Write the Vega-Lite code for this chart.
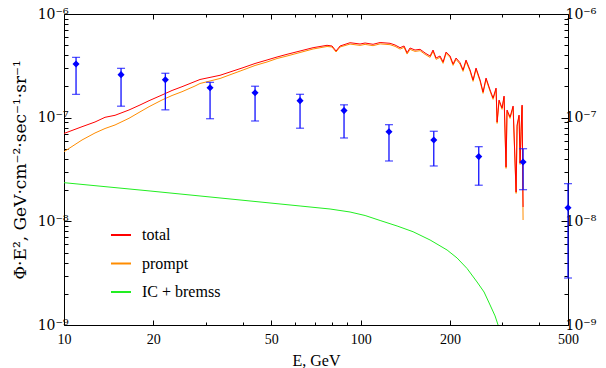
{
  "$schema": "https://vega.github.io/schema/vega-lite/v6.json",
  "width": 504,
  "height": 311,
  "autosize": {"type": "none"},
  "padding": {"left": 64, "top": 14, "right": 38, "bottom": 43},
  "background": "white",
  "config": {
    "view": {"stroke": "black", "strokeWidth": 1},
    "font": "Liberation Serif, Times New Roman, serif",
    "axis": {
      "domain": false,
      "grid": false,
      "tickColor": "black",
      "labelColor": "black",
      "titleColor": "black",
      "labelFont": "Liberation Serif, Times New Roman, serif",
      "titleFont": "Liberation Serif, Times New Roman, serif",
      "labelFontSize": 14,
      "titleFontSize": 16,
      "titleFontWeight": "normal",
      "labelOverlap": false,
      "labelFlush": false,
      "labelBound": false
    },
    "legend": {
      "orient": "none",
      "legendX": 46,
      "legendY": 210,
      "symbolType": "stroke",
      "symbolSize": 400,
      "symbolStrokeWidth": 2,
      "labelFont": "Liberation Serif, Times New Roman, serif",
      "labelFontSize": 16,
      "labelColor": "black",
      "rowPadding": 9.5,
      "labelOffset": 10,
      "padding": 0
    }
  },
  "datasets": {
    "ic": [
      {"E": 10, "F": 2.36e-8}, {"E": 19.5, "F": 1.962e-8}, {"E": 36.28, "F": 1.643e-8},
      {"E": 62.48, "F": 1.406e-8}, {"E": 78.86, "F": 1.315e-8}, {"E": 92.1, "F": 1.23e-8},
      {"E": 103.5, "F": 1.138e-8}, {"E": 116.3, "F": 1.019e-8}, {"E": 132.7, "F": 9.016e-9},
      {"E": 150.2, "F": 7.94e-9}, {"E": 171.4, "F": 6.61e-9}, {"E": 195.6, "F": 5.29e-9},
      {"E": 211.4, "F": 4.43e-9}, {"E": 228.4, "F": 3.508e-9}, {"E": 246.8, "F": 2.6e-9},
      {"E": 260.6, "F": 2.081e-9}, {"E": 273.1, "F": 1.559e-9}, {"E": 283.9, "F": 1.222e-9},
      {"E": 292.8, "F": 9.36e-10}, {"E": 302.0, "F": 7.01e-10}
    ],
    "prompt": [
      {"E": 10.0, "F": 4.696e-8}, {"E": 11.5, "F": 6.091e-8}, {"E": 12.72, "F": 7.116e-8},
      {"E": 13.75, "F": 7.86e-8}, {"E": 14.86, "F": 8.5e-8}, {"E": 16.56, "F": 9.861e-8},
      {"E": 18.04, "F": 1.137e-7}, {"E": 19.35, "F": 1.276e-7}, {"E": 21.4, "F": 1.481e-7},
      {"E": 23.13, "F": 1.636e-7}, {"E": 24.99, "F": 1.78e-7}, {"E": 27.65, "F": 2.02e-7},
      {"E": 28.74, "F": 2.136e-7}, {"E": 33.57, "F": 2.387e-7}, {"E": 40.13, "F": 2.883e-7},
      {"E": 44.05, "F": 3.186e-7}, {"E": 48.35, "F": 3.444e-7}, {"E": 52.26, "F": 3.721e-7},
      {"E": 56.47, "F": 3.934e-7}, {"E": 62.47, "F": 4.251e-7}, {"E": 69.11, "F": 4.595e-7},
      {"E": 77.04, "F": 4.859e-7}, {"E": 80.09, "F": 4.805e-7}, {"E": 82.62, "F": 4.299e-7},
      {"E": 85.22, "F": 4.805e-7}, {"E": 92.1, "F": 5.126e-7}, {"E": 99.54, "F": 4.981e-7},
      {"E": 103.5, "F": 5.093e-7}, {"E": 110.1, "F": 4.948e-7}, {"E": 116.3, "F": 5.15e-7},
      {"E": 125.6, "F": 5.059e-7}, {"E": 130.6, "F": 4.872e-7}, {"E": 135.8, "F": 4.589e-7},
      {"E": 140.1, "F": 4.766e-7}, {"E": 143.4, "F": 4.106e-7}, {"E": 146.7, "F": 4.559e-7},
      {"E": 152.5, "F": 4.359e-7}, {"E": 158.6, "F": 4.427e-7}, {"E": 164.9, "F": 4.078e-7},
      {"E": 171.4, "F": 3.816e-7}, {"E": 175.4, "F": 4.359e-7}, {"E": 179.6, "F": 3.65e-7},
      {"E": 185.2, "F": 3.816e-7}, {"E": 189.6, "F": 3.341e-7}, {"E": 194.1, "F": 4.17e-7},
      {"E": 200.2, "F": 3.816e-7}, {"E": 204.9, "F": 3.195e-7}, {"E": 209.7, "F": 3.65e-7},
      {"E": 216.3, "F": 3.288e-7}, {"E": 221.4, "F": 2.797e-7}, {"E": 226.6, "F": 3.492e-7},
      {"E": 233.8, "F": 2.797e-7}, {"E": 239.3, "F": 2.24e-7}, {"E": 244.9, "F": 2.924e-7},
      {"E": 252.7, "F": 2.24e-7}, {"E": 258.6, "F": 1.716e-7}, {"E": 264.7, "F": 2.342e-7},
      {"E": 273.1, "F": 1.794e-7}, {"E": 279.5, "F": 1.502e-7}, {"E": 286.1, "F": 1.874e-7},
      {"E": 288.4, "F": 8.81e-8},
      {"E": 292.8, "F": 1.437e-7}, {"E": 299.7, "F": 1.203e-7}, {"E": 304.4, "F": 1.569e-7},
      {"E": 309.1, "F": 3.243e-8}, {"E": 311.5, "F": 1.15e-7}, {"E": 318.9, "F": 9.846e-8},
      {"E": 326.5, "F": 1.257e-7}, {"E": 334.2, "F": 1.86e-8}, {"E": 336.8, "F": 8.245e-8},
      {"E": 342.0, "F": 1.029e-7}, {"E": 344.7, "F": 3.54e-8}, {"E": 347.4, "F": 7.372e-8},
      {"E": 350.1, "F": 1.285e-7}, {"E": 352.8, "F": 1.03e-8}
    ],
    "total": [
      {"E": 10.0, "F": 7.04e-8}, {"E": 11.5, "F": 8.18e-8}, {"E": 12.72, "F": 9.08e-8},
      {"E": 13.75, "F": 1.008e-7}, {"E": 14.86, "F": 1.054e-7}, {"E": 16.56, "F": 1.186e-7},
      {"E": 18.04, "F": 1.325e-7}, {"E": 19.35, "F": 1.458e-7}, {"E": 21.4, "F": 1.655e-7},
      {"E": 23.13, "F": 1.829e-7}, {"E": 24.99, "F": 1.989e-7}, {"E": 27.65, "F": 2.233e-7},
      {"E": 28.74, "F": 2.335e-7}, {"E": 33.57, "F": 2.563e-7}, {"E": 40.13, "F": 3.034e-7},
      {"E": 44.05, "F": 3.331e-7}, {"E": 48.35, "F": 3.6e-7}, {"E": 52.26, "F": 3.847e-7},
      {"E": 56.47, "F": 4.085e-7}, {"E": 62.47, "F": 4.395e-7}, {"E": 69.11, "F": 4.731e-7},
      {"E": 77.04, "F": 4.99e-7}, {"E": 80.09, "F": 4.913e-7}, {"E": 82.62, "F": 4.395e-7},
      {"E": 85.22, "F": 4.913e-7}, {"E": 92.1, "F": 5.285e-7}, {"E": 99.54, "F": 5.135e-7},
      {"E": 103.5, "F": 5.25e-7}, {"E": 110.1, "F": 5.101e-7}, {"E": 116.3, "F": 5.309e-7},
      {"E": 125.6, "F": 5.215e-7}, {"E": 130.6, "F": 5.023e-7}, {"E": 135.8, "F": 4.731e-7},
      {"E": 140.1, "F": 4.913e-7}, {"E": 143.4, "F": 4.233e-7}, {"E": 146.7, "F": 4.7e-7},
      {"E": 152.5, "F": 4.494e-7}, {"E": 158.6, "F": 4.564e-7}, {"E": 164.9, "F": 4.204e-7},
      {"E": 171.4, "F": 3.934e-7}, {"E": 175.4, "F": 4.494e-7}, {"E": 179.6, "F": 3.763e-7},
      {"E": 185.2, "F": 3.934e-7}, {"E": 189.6, "F": 3.444e-7}, {"E": 194.1, "F": 4.299e-7},
      {"E": 200.2, "F": 3.934e-7}, {"E": 204.9, "F": 3.294e-7}, {"E": 209.7, "F": 3.763e-7},
      {"E": 216.3, "F": 3.39e-7}, {"E": 221.4, "F": 2.883e-7}, {"E": 226.6, "F": 3.6e-7},
      {"E": 233.8, "F": 2.883e-7}, {"E": 239.3, "F": 2.309e-7}, {"E": 244.9, "F": 3.014e-7},
      {"E": 252.7, "F": 2.309e-7}, {"E": 258.6, "F": 1.769e-7}, {"E": 264.7, "F": 2.414e-7},
      {"E": 273.1, "F": 1.849e-7}, {"E": 279.5, "F": 1.548e-7}, {"E": 286.1, "F": 1.932e-7},
      {"E": 288.4, "F": 9.08e-8},
      {"E": 292.8, "F": 1.481e-7}, {"E": 299.7, "F": 1.24e-7}, {"E": 304.4, "F": 1.618e-7},
      {"E": 309.1, "F": 3.343e-8}, {"E": 311.5, "F": 1.186e-7}, {"E": 318.9, "F": 1.015e-7},
      {"E": 326.5, "F": 1.296e-7}, {"E": 334.2, "F": 1.918e-8}, {"E": 336.8, "F": 8.5e-8},
      {"E": 342.0, "F": 1.061e-7}, {"E": 344.7, "F": 3.65e-8}, {"E": 347.4, "F": 7.6e-8},
      {"E": 350.1, "F": 1.325e-7}, {"E": 352.8, "F": 1.375e-8}
    ],
    "points": [
      {"E": 10.98, "F": 3.3e-7, "lo": 1.68e-7, "hi": 3.82e-7},
      {"E": 15.57, "F": 2.6e-7, "lo": 1.29e-7, "hi": 2.99e-7},
      {"E": 21.96, "F": 2.32e-7, "lo": 1.19e-7, "hi": 2.68e-7},
      {"E": 31.07, "F": 1.94e-7, "lo": 9.77e-8, "hi": 2.19e-7},
      {"E": 44.06, "F": 1.74e-7, "lo": 9.29e-8, "hi": 2.01e-7},
      {"E": 62.47, "F": 1.46e-7, "lo": 7.91e-8, "hi": 1.68e-7},
      {"E": 87.9, "F": 1.17e-7, "lo": 6.37e-8, "hi": 1.33e-7},
      {"E": 124.6, "F": 7.32e-8, "lo": 3.82e-8, "hi": 8.56e-8},
      {"E": 176.4, "F": 6.09e-8, "lo": 3.42e-8, "hi": 7.39e-8},
      {"E": 250.1, "F": 4.21e-8, "lo": 2.23e-8, "hi": 5.25e-8},
      {"E": 352.8, "F": 3.73e-8, "lo": 2.02e-8, "hi": 5.02e-8},
      {"E": 500, "F": 1.35e-8, "lo": 2.84e-9, "hi": 2.31e-8}
    ]
  },
  "layer": [
    {
      "data": {"name": "ic"},
      "mark": {"type": "line", "clip": true, "strokeWidth": 1},
      "encoding": {
        "x": {
          "field": "E", "type": "quantitative",
          "scale": {"type": "log", "domain": [10, 500], "nice": false},
          "axis": {
            "orient": "bottom",
            "values": [10, 20, 30, 40, 50, 60, 70, 80, 90, 100, 200, 300, 400, 500],
            "labelExpr": "indexof([10,20,50,100,200,500], datum.value) >= 0 ? '' + datum.value : ''",
            "tickSize": {"condition": {"test": "indexof([10,20,50,100,200,500], datum.value) >= 0", "value": -5}, "value": -3},
            "labelPadding": 12,
            "title": "E, GeV",
            "titlePadding": 4
          }
        },
        "y": {
          "field": "F", "type": "quantitative",
          "scale": {"type": "log", "domain": [1e-9, 1e-6], "nice": false},
          "axis": {
            "orient": "left",
            "values": [1e-9, 2e-9, 3e-9, 4e-9, 5e-9, 6e-9, 7e-9, 8e-9, 9e-9, 1e-8, 2e-8, 3e-8, 4e-8, 5e-8, 6e-8, 7e-8, 8e-8, 9e-8, 1e-7, 2e-7, 3e-7, 4e-7, 5e-7, 6e-7, 7e-7, 8e-7, 9e-7, 1e-6],
            "labelExpr": "datum.value == 1e-6 ? '10⁻⁶' : datum.value == 1e-7 ? '10⁻⁷' : datum.value == 1e-8 ? '10⁻⁸' : datum.value == 1e-9 ? '10⁻⁹' : ''",
            "tickSize": {"condition": {"test": "datum.value == 1e-6 || datum.value == 1e-7 || datum.value == 1e-8 || datum.value == 1e-9", "value": -7}, "value": -4},
            "labelFont": "DejaVu Serif",
            "labelFontSize": 14,
            "labelPadding": 3,
            "title": "Φ·E², GeV·cm⁻²·sec⁻¹·sr⁻¹",
            "titleFont": "DejaVu Serif",
            "titleFontSize": 17,
            "titlePadding": 8
          }
        },
        "color": {
          "datum": "IC + bremss", "type": "nominal",
          "scale": {"domain": ["total", "prompt", "IC + bremss"], "range": ["#ff0000", "#ff8c00", "#22ee22"]},
          "legend": {"title": null, "labelFont": "Liberation Serif", "labelFontSize": 16}
        }
      }
    },
    {
      "data": {"name": "prompt"},
      "mark": {"type": "line", "clip": true, "strokeWidth": 1},
      "encoding": {
        "x": {
          "field": "E", "type": "quantitative",
          "axis": {
            "orient": "top",
            "values": [10, 20, 30, 40, 50, 60, 70, 80, 90, 100, 200, 300, 400, 500],
            "labels": false,
            "tickSize": {"condition": {"test": "indexof([10,20,50,100,200,500], datum.value) >= 0", "value": -5}, "value": -3},
            "title": null
          }
        },
        "y": {
          "field": "F", "type": "quantitative",
          "axis": {
            "orient": "right",
            "values": [1e-9, 2e-9, 3e-9, 4e-9, 5e-9, 6e-9, 7e-9, 8e-9, 9e-9, 1e-8, 2e-8, 3e-8, 4e-8, 5e-8, 6e-8, 7e-8, 8e-8, 9e-8, 1e-7, 2e-7, 3e-7, 4e-7, 5e-7, 6e-7, 7e-7, 8e-7, 9e-7, 1e-6],
            "labelExpr": "datum.value == 1e-6 ? '10⁻⁶' : datum.value == 1e-7 ? '10⁻⁷' : datum.value == 1e-8 ? '10⁻⁸' : datum.value == 1e-9 ? '10⁻⁹' : ''",
            "tickSize": {"condition": {"test": "datum.value == 1e-6 || datum.value == 1e-7 || datum.value == 1e-8 || datum.value == 1e-9", "value": -7}, "value": -4},
            "labelFont": "DejaVu Serif",
            "labelFontSize": 14,
            "labelPadding": 4,
            "title": null
          }
        },
        "color": {"datum": "prompt", "type": "nominal"}
      }
    },
    {
      "data": {"name": "total"},
      "mark": {"type": "line", "clip": true, "strokeWidth": 1},
      "encoding": {
        "x": {"field": "E", "type": "quantitative", "axis": null},
        "y": {"field": "F", "type": "quantitative", "axis": null},
        "color": {"datum": "total", "type": "nominal"}
      }
    },
    {
      "data": {"name": "points"},
      "mark": {"type": "rule", "color": "#1010ff", "strokeWidth": 1.3},
      "encoding": {
        "x": {"field": "E", "type": "quantitative", "axis": null},
        "y": {"field": "lo", "type": "quantitative", "axis": null},
        "y2": {"field": "hi"}
      }
    },
    {
      "data": {"name": "points"},
      "mark": {"type": "tick", "orient": "horizontal", "color": "#1010ff", "size": 8, "thickness": 1.3},
      "encoding": {
        "x": {"field": "E", "type": "quantitative", "axis": null},
        "y": {"field": "lo", "type": "quantitative", "axis": null}
      }
    },
    {
      "data": {"name": "points"},
      "mark": {"type": "tick", "orient": "horizontal", "color": "#1010ff", "size": 8, "thickness": 1.3},
      "encoding": {
        "x": {"field": "E", "type": "quantitative", "axis": null},
        "y": {"field": "hi", "type": "quantitative", "axis": null}
      }
    },
    {
      "data": {"name": "points"},
      "mark": {"type": "point", "shape": "diamond", "filled": true, "size": 50, "color": "#0000ff", "opacity": 1},
      "encoding": {
        "x": {"field": "E", "type": "quantitative", "axis": null},
        "y": {"field": "F", "type": "quantitative", "axis": null}
      }
    }
  ],
  "resolve": {"axis": {"x": "independent", "y": "independent"}}
}
